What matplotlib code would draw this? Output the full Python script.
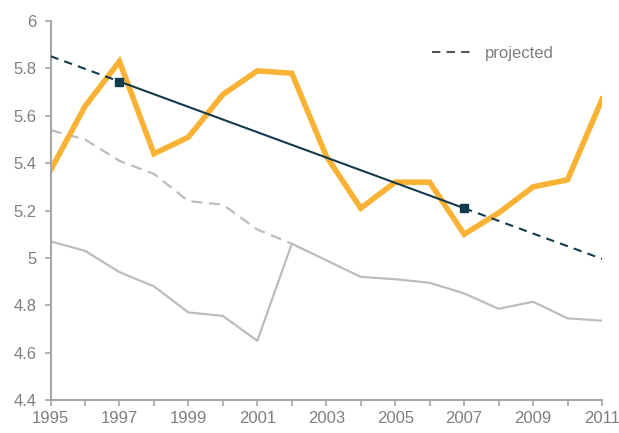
import matplotlib
matplotlib.use("Agg")
import matplotlib.pyplot as plt
from matplotlib.lines import Line2D

plt.rcParams['font.family'] = ['Liberation Sans', 'DejaVu Sans']

# data
years = list(range(1995, 2012))
orange = [5.37, 5.64, 5.83, 5.44, 5.51, 5.69, 5.79, 5.78, 5.43, 5.21,
          5.32, 5.32, 5.10, 5.19, 5.30, 5.33, 5.67]
gray_solid = [5.07, 5.03, 4.94, 4.88, 4.77, 4.755, 4.65, 5.06, 4.99, 4.92,
              4.91, 4.895, 4.85, 4.785, 4.815, 4.745, 4.735]
dash_years = list(range(1995, 2003))
gray_dashed = [5.54, 5.50, 5.41, 5.355, 5.24, 5.225, 5.12, 5.06]

trend_years = [1997, 2007]
trend_vals = [5.745, 5.21]
proj_left = [1995, 1997]
proj_left_vals = [5.852, 5.745]
proj_right = [2007, 2011]
proj_right_vals = [5.21, 4.996]

NAVY = '#133b4c'
ORANGE = '#f9b233'
GRAY = '#bdbdbd'
AXIS = '#a6a6a6'
TEXT = '#7f7f7f'

fig = plt.figure(figsize=(6.19, 4.33), dpi=100)
ax = fig.add_axes([0.0816, 0.0762, 0.891, 0.875])

ax.plot(years, gray_solid, color=GRAY, lw=1.6, zorder=1)
ax.plot(dash_years, gray_dashed, color=GRAY, lw=1.6, ls=(0, (5, 3)), zorder=1)
ax.plot(years, orange, color=ORANGE, lw=4.0, solid_joinstyle='miter', zorder=2)
ax.plot(proj_left, proj_left_vals, color=NAVY, lw=1.5, ls=(0, (4, 3)), zorder=3)
ax.plot(proj_right, proj_right_vals, color=NAVY, lw=1.5, ls=(0, (4, 3)), zorder=3)
ax.plot(trend_years, trend_vals, color=NAVY, lw=1.5, marker='s', ms=6, zorder=4)

ax.set_xlim(1995, 2011)
ax.set_ylim(4.4, 6.0)
ax.set_xticks(years)
ax.set_xticklabels([str(y) if (y - 1995) % 2 == 0 else '' for y in years])
yt = [4.4, 4.6, 4.8, 5.0, 5.2, 5.4, 5.6, 5.8, 6.0]
ax.set_yticks(yt)
ax.set_yticklabels(['4.4', '4.6', '4.8', '5', '5.2', '5.4', '5.6', '5.8', '6'])

for s in ['top', 'right']:
    ax.spines[s].set_visible(False)
for s in ['left', 'bottom']:
    ax.spines[s].set_color(AXIS)
    ax.spines[s].set_linewidth(1.5)
ax.tick_params(axis='both', colors=AXIS, labelcolor=TEXT, labelsize=12,
               width=1.2, length=4)
ax.tick_params(axis='y', pad=6)
ax.tick_params(axis='x', pad=4)

handle = Line2D([], [], color='#555555', lw=1.5, ls=(0, (4, 3)))
leg = ax.legend([handle], ['projected'], loc='upper right',
                bbox_to_anchor=(0.94, 0.975), frameon=False, fontsize=12,
                handlelength=2.6, handletextpad=0.6)
for t in leg.get_texts():
    t.set_color(TEXT)

fig.savefig('out.png', dpi=100)
